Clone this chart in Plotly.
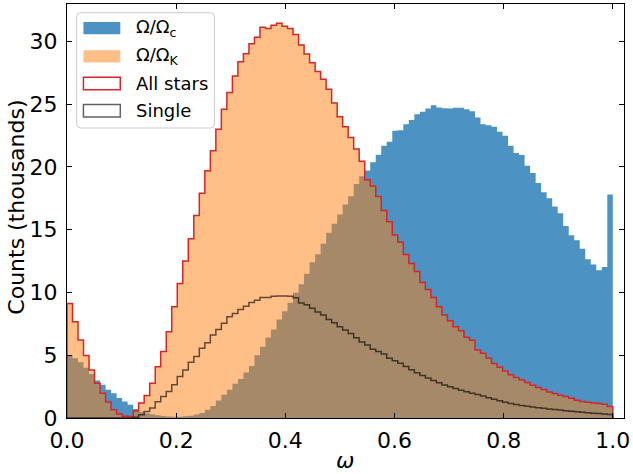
import numpy as np
import plotly.graph_objects as go

# ---- data (counts in thousands, 99 bins from 0 to 1) ----
bin_edges = np.linspace(0.0, 1.0, 100)

omega_c = [5.0, 4.75, 4.45, 4.0, 3.5, 2.98, 2.64, 2.25, 1.98, 1.6,
           1.32, 1.06, 0.72, 0.5, 0.38, 0.3, 0.22, 0.16, 0.12, 0.1,
           0.1, 0.13, 0.18, 0.27, 0.4, 0.65, 0.95, 1.4, 1.85, 2.25,
           2.72, 3.1, 3.62, 4.15, 5.0, 5.68, 6.42, 7.06, 7.85, 8.51,
           9.18, 9.97, 10.66, 11.5, 12.4, 13.04, 13.88, 14.76, 15.47, 16.21,
           17.0, 17.67, 18.65, 19.26, 19.71, 20.37, 20.97, 21.69, 22.0, 22.88,
           22.93, 23.41, 23.73, 24.2, 24.39, 24.65, 24.92, 24.73, 24.68, 24.65,
           24.71, 24.71, 24.6, 24.44, 23.94, 23.41, 23.33, 23.2, 22.8, 22.48,
           21.69, 21.11, 20.95, 20.1, 19.52, 18.73, 17.99, 17.51, 16.85, 16.32,
           15.29, 14.55, 14.15, 13.49, 12.64, 12.22, 11.77, 12.03, 17.8]

omega_k = [9.13, 7.67, 6.21, 4.97, 3.83, 2.77, 1.98, 1.27, 0.66, 0.32,
           0.13, 0.12, 0.55, 1.19, 1.8, 2.77, 4.09, 5.29, 6.88, 8.86,
           10.71, 12.51, 14.28, 16.13, 17.9, 19.7, 21.29, 23.0, 24.6, 25.92,
           27.24, 28.38, 29.02, 29.81, 30.34, 31.13, 31.03, 31.29, 31.45, 31.21,
           31.03, 30.55, 29.71, 29.0, 28.3, 27.6, 26.98, 26.19, 25.1, 24.0,
           23.2, 22.35, 21.43, 20.45, 18.97, 18.48, 17.65, 16.53, 15.63, 14.57,
           14.0, 13.02, 12.3, 11.67, 10.8, 10.24, 9.6, 8.86, 8.2, 7.75,
           7.27, 6.96, 6.43, 6.2, 5.42, 5.15, 4.75, 4.35, 4.05, 3.75,
           3.45, 3.22, 3.03, 2.83, 2.6, 2.42, 2.27, 2.08, 1.95, 1.81,
           1.71, 1.58, 1.41, 1.32, 1.25, 1.19, 1.16, 1.1, 0.92]

single = [0, 0, 0, 0, 0, 0, 0, 0, 0, 0,
          0, 0, 0.05, 0.26, 0.52, 0.79, 1.3, 1.72, 2.11, 2.64,
          3.3, 3.83, 4.44, 4.89, 5.55, 6.0, 6.61, 7.06, 7.54, 8.07,
          8.33, 8.65, 8.91, 9.2, 9.39, 9.6, 9.6, 9.7, 9.72, 9.72,
          9.7, 9.57, 9.17, 9.03, 8.75, 8.45, 8.2, 7.85, 7.58, 7.27,
          7.01, 6.74, 6.4, 6.05, 5.82, 5.47, 5.29, 5.1, 4.76, 4.57,
          4.36, 4.1, 3.85, 3.6, 3.38, 3.18, 2.98, 2.8, 2.62, 2.48,
          2.35, 2.22, 2.1, 1.98, 1.87, 1.75, 1.62, 1.5, 1.38, 1.25,
          1.15, 1.07, 1.0, 0.93, 0.87, 0.82, 0.77, 0.72, 0.67, 0.63,
          0.58, 0.54, 0.5, 0.46, 0.42, 0.38, 0.35, 0.32, 0.28]

x_ticks = [0.0, 0.2, 0.4, 0.6, 0.8, 1.0]
y_ticks = [0, 5, 10, 15, 20, 25, 30]
legend_labels = ["Ω/Ω<sub>c</sub>", "Ω/Ω<sub>K</sub>", "All stars", "Single"]

BLUE = "rgba(31,119,180,0.8)"
ORANGE = "rgba(255,127,14,0.5)"
RED = "#d62728"
GREY = "rgba(0,0,0,0.62)"
FONT = "DejaVu Sans"


def filled_xy(values):
    v = list(values)
    return list(bin_edges), v + [v[-1]]


def step_xy(values):
    v = list(values)
    xs = [bin_edges[0]] + list(bin_edges) + [bin_edges[-1]]
    ys = [0] + v + [v[-1]] + [0]
    return xs, ys


fig = go.Figure()

x, y = filled_xy(omega_c)
fig.add_trace(go.Scatter(x=x, y=y, mode="lines", line=dict(width=0, shape="hv"),
                         fill="tozeroy", fillcolor=BLUE, showlegend=False, hoverinfo="skip"))
x, y = filled_xy(omega_k)
fig.add_trace(go.Scatter(x=x, y=y, mode="lines", line=dict(width=0, shape="hv"),
                         fill="tozeroy", fillcolor=ORANGE, showlegend=False, hoverinfo="skip"))
x, y = step_xy(omega_k)
fig.add_trace(go.Scatter(x=x, y=y, mode="lines", line=dict(color=RED, width=1.5, shape="hv"),
                         showlegend=False, hoverinfo="skip"))
x, y = step_xy(single)
fig.add_trace(go.Scatter(x=x, y=y, mode="lines", line=dict(color=GREY, width=1.5, shape="hv"),
                         showlegend=False, hoverinfo="skip"))

# ---- layout geometry ----
W, H = 633, 474
ML, MR, MT, MB = 67, 7, 3, 56
PW, PH = W - ML - MR, H - MT - MB


def px(xp):
    return (xp - ML) / PW


def py(yp):
    return (H - MB - yp) / PH


axis_common = dict(showline=True, linecolor="black", linewidth=1.1, mirror="ticks",
                   ticks="inside", ticklen=5, tickwidth=1.1, tickcolor="black",
                   showgrid=False, zeroline=False,
                   tickfont=dict(family=FONT, size=22, color="black"))

fig.update_layout(
    width=W, height=H,
    margin=dict(l=ML, r=MR, t=MT, b=MB),
    paper_bgcolor="white", plot_bgcolor="white",
    showlegend=False,
    xaxis=dict(range=[0, 1.0205], tickvals=x_ticks,
               ticktext=[f"{v:.1f}" for v in x_ticks], ticklabelstandoff=3, **axis_common),
    yaxis=dict(range=[0, 32.98], tickvals=y_ticks,
               ticktext=[str(v) for v in y_ticks], ticklabelstandoff=4, **axis_common),
)

# axis titles
fig.add_annotation(x=px(346), y=py(461), xref="paper", yref="paper", text="<i>ω</i>",
                   showarrow=False, font=dict(family=FONT, size=22, color="black"),
                   xanchor="center", yanchor="middle")
fig.add_annotation(x=px(16), y=py(207), xref="paper", yref="paper", text="Counts (thousands)",
                   showarrow=False, textangle=-90,
                   font=dict(family=FONT, size=22, color="black"),
                   xanchor="center", yanchor="middle")

# ---- legend (drawn manually to mimic matplotlib's patches) ----
bx0, bx1, by0, by1 = 76.7, 215, 11.7, 127.3
r = 4
path = (f"M {px(bx0 + r)},{py(by0)} L {px(bx1 - r)},{py(by0)} "
        f"Q {px(bx1)},{py(by0)} {px(bx1)},{py(by0 + r)} "
        f"L {px(bx1)},{py(by1 - r)} Q {px(bx1)},{py(by1)} {px(bx1 - r)},{py(by1)} "
        f"L {px(bx0 + r)},{py(by1)} Q {px(bx0)},{py(by1)} {px(bx0)},{py(by1 - r)} "
        f"L {px(bx0)},{py(by0 + r)} Q {px(bx0)},{py(by0)} {px(bx0 + r)},{py(by0)} Z")
fig.add_shape(type="path", path=path, xref="paper", yref="paper",
              fillcolor="rgba(255,255,255,0.8)", line=dict(color="#cccccc", width=1))

row_centers = [27.2, 55.5, 82.7, 110.0]
patch_styles = [
    dict(fillcolor=BLUE, line=dict(width=0)),
    dict(fillcolor=ORANGE, line=dict(width=0)),
    dict(fillcolor="white", line=dict(color=RED, width=1.5)),
    dict(fillcolor="white", line=dict(color=GREY, width=1.5)),
]
for yc, label, style in zip(row_centers, legend_labels, patch_styles):
    fig.add_shape(type="rect", xref="paper", yref="paper",
                  x0=px(83.5), x1=px(120.5), y0=py(yc - 6.2), y1=py(yc + 6.2), **style)
    fig.add_annotation(x=px(134), y=py(yc), xref="paper", yref="paper", text=label,
                       showarrow=False, xanchor="left", yanchor="middle",
                       font=dict(family=FONT, size=18, color="black"))

fig.write_html("out.html")
